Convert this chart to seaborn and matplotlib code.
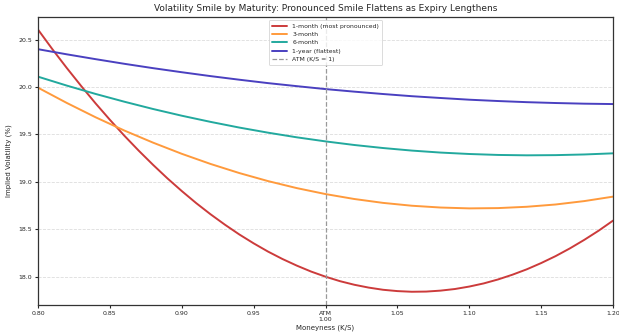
import numpy as np
import pandas as pd
import seaborn as sns
import matplotlib
matplotlib.use("Agg")
import matplotlib.pyplot as plt

# moneyness grid for the 1-month series (read at finer spacing: strongest curvature)
moneyness_1m = [0.80, 0.81, 0.82, 0.83, 0.84, 0.85, 0.86, 0.87, 0.88, 0.89, 0.90,
                0.91, 0.92, 0.93, 0.94, 0.95, 0.96, 0.97, 0.98, 0.99, 1.00,
                1.01, 1.02, 1.03, 1.04, 1.05, 1.06, 1.07, 1.08, 1.09, 1.10,
                1.11, 1.12, 1.13, 1.14, 1.15, 1.16, 1.17, 1.18, 1.19, 1.20]
iv_1m = [20.607, 20.400, 20.202, 20.012, 19.829, 19.655, 19.488, 19.330, 19.180, 19.037, 18.903,
         18.776, 18.658, 18.548, 18.445, 18.351, 18.264, 18.186, 18.116, 18.053, 17.999,
         17.952, 17.914, 17.884, 17.861, 17.847, 17.840, 17.842, 17.852, 17.869, 17.895,
         17.928, 17.970, 18.020, 18.077, 18.143, 18.216, 18.298, 18.388, 18.485, 18.591]

moneyness = [0.80, 0.82, 0.84, 0.86, 0.88, 0.90, 0.92, 0.94, 0.96, 0.98, 1.00,
             1.02, 1.04, 1.06, 1.08, 1.10, 1.12, 1.14, 1.16, 1.18, 1.20]
iv_3m = [19.994, 19.833, 19.682, 19.542, 19.414, 19.296, 19.189, 19.093, 19.008, 18.934, 18.871,
         18.819, 18.778, 18.748, 18.729, 18.720, 18.723, 18.737, 18.761, 18.797, 18.844]
iv_6m = [20.110, 20.016, 19.928, 19.846, 19.769, 19.698, 19.633, 19.573, 19.519, 19.470, 19.427,
         19.389, 19.357, 19.330, 19.309, 19.294, 19.284, 19.280, 19.282, 19.289, 19.301]
iv_1y = [20.400, 20.346, 20.295, 20.246, 20.200, 20.157, 20.116, 20.078, 20.042, 20.010, 19.979,
         19.952, 19.927, 19.904, 19.885, 19.867, 19.853, 19.841, 19.832, 19.825, 19.821]

series_names = ["1-month (most pronounced)", "3-month", "6-month", "1-year (flattest)"]
series_colors = ["#cc3b3b", "#ff9a3c", "#22a99e", "#4a40c0"]
tick_values = [0.80, 0.85, 0.90, 0.95, 1.00, 1.05, 1.10, 1.15, 1.20]
tick_labels = ["0.80", "0.85", "0.90", "0.95", "ATM\n1.00", "1.05", "1.10", "1.15", "1.20"]

sns.set_style("ticks")
plt.rcParams['font.family'] = ['DejaVu Sans']

frames = [pd.DataFrame({"Moneyness": moneyness_1m, "IV": iv_1m, "Maturity": series_names[0]})]
for name, vals in zip(series_names[1:], [iv_3m, iv_6m, iv_1y]):
    frames.append(pd.DataFrame({"Moneyness": moneyness, "IV": vals, "Maturity": name}))
df = pd.concat(frames, ignore_index=True)

fig = plt.figure(figsize=(6.19, 3.33), dpi=100)
ax = fig.add_axes([0.0614, 0.084, 0.929, 0.865])

sns.lineplot(data=df, x="Moneyness", y="IV", hue="Maturity", hue_order=series_names,
             palette=series_colors, linewidth=1.4, ax=ax)
ax.axvline(1.0, color="#999999", linestyle="--", linewidth=0.9, label="ATM (K/S = 1)")

ax.set_xlim(0.80, 1.20)
ax.set_ylim(17.70, 20.74)
ax.set_xticks(tick_values)
ax.set_xticklabels(tick_labels)
ax.set_yticks([18.0, 18.5, 19.0, 19.5, 20.0, 20.5])
ax.tick_params(labelsize=4.5, length=2.5, width=0.8, pad=2)
ax.yaxis.grid(True, linestyle="--", color="#dddddd", linewidth=0.6)
ax.set_axisbelow(True)
for s in ax.spines.values():
    s.set_color("#333333")
    s.set_linewidth(0.9)

ax.set_title("Volatility Smile by Maturity: Pronounced Smile Flattens as Expiry Lengthens",
             fontsize=6.5, pad=4)
ax.set_xlabel("Moneyness (K/S)", fontsize=5, labelpad=2)
ax.set_ylabel("Implied Volatility (%)", fontsize=5, labelpad=4)

handles, labels = ax.get_legend_handles_labels()
leg = ax.legend(handles, labels, loc="upper center", bbox_to_anchor=(0.5, 1.0),
                fontsize=4.4, frameon=True, handlelength=2.5, borderpad=0.55,
                labelspacing=0.5)
leg.get_frame().set_linewidth(0.6)
leg.get_frame().set_edgecolor("#cccccc")

fig.savefig("out.png", dpi=100)
